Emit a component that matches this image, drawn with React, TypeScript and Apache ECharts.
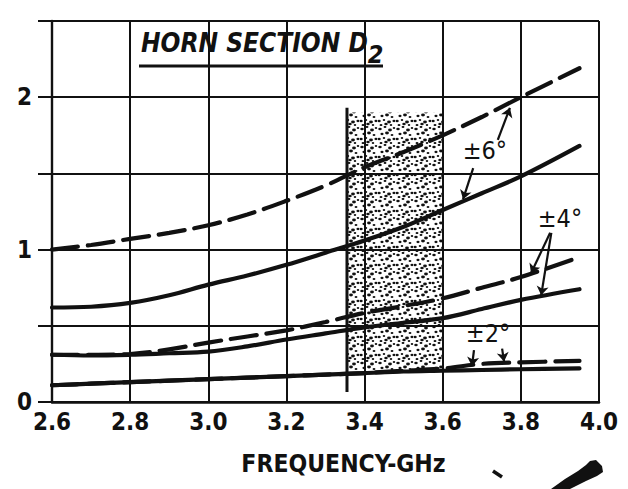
import React, { useEffect, useRef } from "react";
import * as echarts from "echarts";

// ---- data ----
const freq = [2.6, 2.7, 2.8, 2.9, 3.0, 3.1, 3.2, 3.3, 3.4, 3.5, 3.6, 3.7, 3.8, 3.95];
const solid6 = [0.62, 0.625, 0.65, 0.7, 0.77, 0.83, 0.9, 0.98, 1.06, 1.15, 1.26, 1.37, 1.48, 1.68];
const dashed6 = [1.0, 1.03, 1.07, 1.11, 1.16, 1.23, 1.32, 1.42, 1.54, 1.64, 1.75, 1.87, 2.0, 2.19];
const solid4 = [0.31, 0.305, 0.31, 0.32, 0.33, 0.365, 0.41, 0.45, 0.49, 0.52, 0.55, 0.61, 0.67, 0.74];
const dashed4 = [0.31, 0.31, 0.315, 0.345, 0.39, 0.43, 0.47, 0.525, 0.585, 0.63, 0.68, 0.75, 0.82, 0.95];
const solid2 = [0.11, 0.12, 0.13, 0.14, 0.15, 0.16, 0.17, 0.18, 0.19, 0.2, 0.205, 0.21, 0.215, 0.22];
const dashed2 = [0.11, 0.12, 0.13, 0.14, 0.15, 0.16, 0.17, 0.18, 0.19, 0.205, 0.22, 0.25, 0.26, 0.27];

const yTickLabels = ["0", "1", "2"];
const bandX = [3.355, 3.6];
const bandY = [0.21, 1.9];
const bandEdgeY = [0.065, 1.93];

const labels6 = { text: "±6°", at: [3.708, 1.651] };
const labels4 = { text: "±4°", at: [3.9, 1.204] };
const labels2 = { text: "±2°", at: [3.716, 0.447] };
const arrows6 = [
  [[3.678, 1.535], [3.652, 1.33]],
  [[3.741, 1.72], [3.772, 1.93]],
];
const arrows4 = [
  [[3.875, 1.11], [3.826, 0.845]],
  [[3.878, 1.11], [3.852, 0.7]],
];
const arrows2 = [
  [[3.68, 0.34], [3.675, 0.235]],
  [[3.752, 0.35], [3.757, 0.265]],
];

const INK = "#111";
const COND = "'DejaVu Sans Condensed', 'Liberation Sans Narrow', 'DejaVu Sans', sans-serif";

function stipple(): string {
  const dots = [
    [2, 3, 1.1], [7, 1, 0.9], [12, 4, 1.2], [16, 2, 0.8], [4, 8, 1.0], [9, 7, 1.2],
    [14, 9, 0.9], [1, 13, 1.1], [6, 12, 0.8], [11, 14, 1.2], [16, 13, 1.0], [3, 17, 0.9],
    [8, 16, 1.1], [13, 17, 0.8],
  ];
  const body = dots
    .map(([x, y, r]) => `<ellipse cx='${x}' cy='${y}' rx='${r * 1.6}' ry='${r * 1.15}' fill='#111'/>`)
    .join("");
  const svg = `<svg xmlns='http://www.w3.org/2000/svg' width='18' height='18'>${body}</svg>`;
  return "data:image/svg+xml;charset=utf-8," + encodeURIComponent(svg);
}

const pts = (ys: number[]) => freq.map((f, i) => [f, ys[i]]);

function curve(name: string, ys: number[], dashed: boolean, extra: any = {}) {
  return {
    name,
    type: "line",
    data: pts(ys),
    smooth: 0.35,
    showSymbol: false,
    symbol: "none",
    z: 4,
    lineStyle: { color: INK, width: 4.2, type: dashed ? [26, 10] : "solid", cap: "round" },
    ...extra,
  };
}

function annot(label: { text: string; at: number[] }, arrows: number[][][]) {
  return {
    markPoint: {
      silent: true,
      symbol: "rect",
      symbolSize: 1,
      itemStyle: { color: "rgba(0,0,0,0)" },
      label: {
        show: true,
        position: "inside",
        color: INK,
        fontFamily: COND,
        fontSize: 25,
        formatter: label.text,
      },
      data: [{ coord: label.at }],
    },
    markLine: {
      silent: true,
      symbol: ["none", "arrow"],
      symbolSize: 9,
      label: { show: false },
      lineStyle: { color: INK, width: 2.2, type: "solid" },
      data: arrows.map(([a, b]) => [{ coord: a }, { coord: b }]),
    },
  };
}

export default function App() {
  const ref = useRef<HTMLDivElement>(null);
  useEffect(() => {
    if (!ref.current) return;
    const chart = echarts.init(ref.current, undefined, { renderer: "svg" });
    chart.setOption({
      animation: false,
      backgroundColor: "#fff",
      title: {
        text: "{a|HORN SECTION D}{s|2}",
        left: 141,
        top: 30,
        padding: 0,
        textStyle: {
          rich: {
            a: {
              fontFamily: COND,
              fontSize: 26,
              fontStyle: "italic",
              fontWeight: "bold",
              color: INK,
              lineHeight: 30,
              verticalAlign: "top",
            },
            s: {
              fontFamily: COND,
              fontSize: 25,
              fontStyle: "italic",
              fontWeight: "bold",
              color: INK,
              lineHeight: 48,
              padding: [0, 0, 0, 0],
            },
          },
        },
      },
      grid: { left: 52, right: 29, top: 21, bottom: 87, containLabel: false },
      xAxis: {
        type: "value",
        min: 2.6,
        max: 4.0,
        interval: 0.2,
        name: "FREQUENCY-GHz",
        nameLocation: "middle",
        nameGap: 49,
        nameTextStyle: {
          fontFamily: COND,
          fontWeight: "bold",
          fontSize: 24.5,
          color: INK,
          padding: [0, 0, 0, 36],
        },
        axisLine: { show: true, onZero: false, lineStyle: { color: INK, width: 2.5 } },
        axisTick: { show: false },
        axisLabel: {
          margin: 8,
          fontFamily: COND,
          fontWeight: "bold",
          fontSize: 24,
          color: INK,
          formatter: (v: number) => v.toFixed(1),
        },
        splitLine: { show: true, lineStyle: { color: INK, width: 2 } },
      },
      yAxis: {
        type: "value",
        min: 0,
        max: 2.5,
        interval: 0.5,
        axisLine: { show: true, lineStyle: { color: INK, width: 2.4 } },
        axisTick: { show: true, length: 14, lineStyle: { color: INK, width: 2 } },
        axisLabel: {
          margin: 20,
          fontFamily: COND,
          fontWeight: "bold",
          fontSize: 24,
          color: INK,
          formatter: (v: number) => {
            const s = String(Math.round(v));
            return Math.abs(v - Math.round(v)) < 1e-6 && yTickLabels.includes(s) ? s : "";
          },
        },
        splitLine: { show: true, lineStyle: { color: INK, width: 2 } },
      },
      series: [
        {
          name: "band",
          type: "line",
          data: [
            [bandX[0], bandEdgeY[0]],
            [bandX[0], bandEdgeY[1]],
          ],
          showSymbol: false,
          symbol: "none",
          z: 3,
          lineStyle: { color: INK, width: 3 },
          markArea: {
            silent: true,
            itemStyle: {
              color: { image: stipple(), repeat: "repeat", imageWidth: 18, imageHeight: 18 },
            },
            data: [[{ xAxis: bandX[0], yAxis: bandY[0] }, { xAxis: bandX[1], yAxis: bandY[1] }]],
          },
        },
        curve("±6° solid", solid6, false, annot(labels6, arrows6)),
        curve("±6° dashed", dashed6, true),
        curve("±4° solid", solid4, false, annot(labels4, arrows4)),
        curve("±4° dashed", dashed4, true),
        curve("±2° solid", solid2, false, annot(labels2, arrows2)),
        curve("±2° dashed", dashed2, true),
      ],
      graphic: [
        { type: "line", shape: { x1: 139, y1: 66, x2: 383, y2: 66 }, style: { stroke: INK, lineWidth: 3 } },
        {
          type: "polygon",
          shape: {
            points: [
              [551, 489], [565, 479], [578, 471], [586, 465], [590, 461], [596, 460],
              [602, 466], [603, 472], [597, 476], [586, 481], [576, 486], [570, 489],
            ],
          },
          style: { fill: INK },
        },
        { type: "line", shape: { x1: 493, y1: 471, x2: 502, y2: 477 }, style: { stroke: INK, lineWidth: 3.5 } },
      ],
    });
    return () => chart.dispose();
  }, []);
  return (
    <div
      ref={ref}
      style={{ position: "absolute", left: 0, top: 0, width: 628, height: 489, background: "#fff" }}
    />
  );
}
